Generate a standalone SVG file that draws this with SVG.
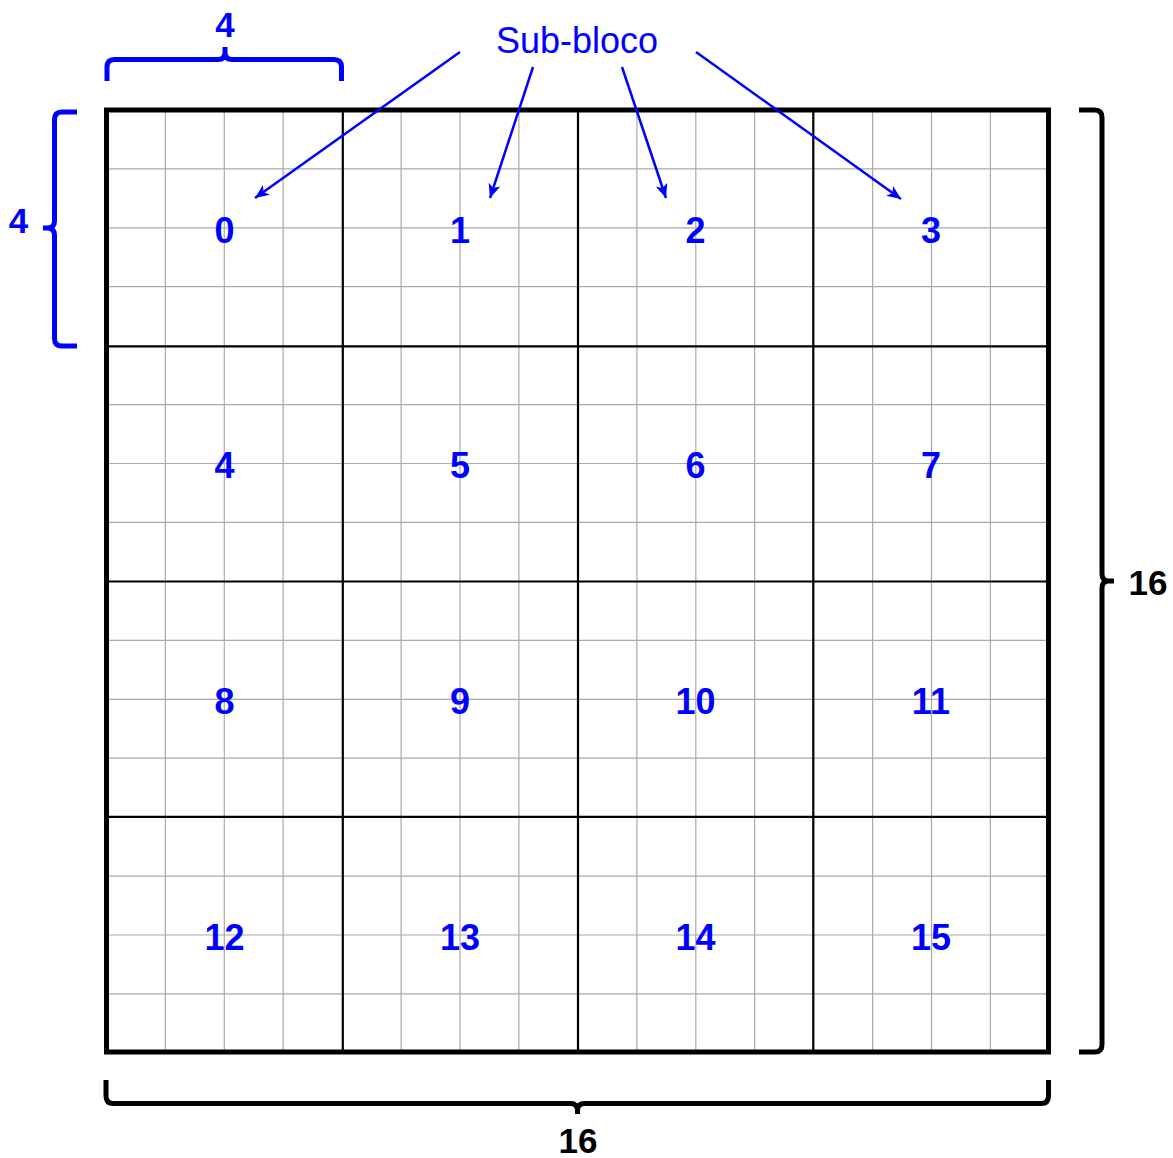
<svg xmlns="http://www.w3.org/2000/svg" width="1173" height="1158" viewBox="0 0 1173 1158">
<style>
.num{font-family:"Liberation Sans",Arial,sans-serif;font-weight:bold;font-size:36px;fill:#0000ff;text-anchor:middle}
.dim{font-family:"Liberation Sans",Arial,sans-serif;font-weight:bold;font-size:35px;text-anchor:middle}
.fine{stroke:#aaaaaa;stroke-width:1.2;fill:none}
.sub{stroke:#000;stroke-width:2.2;fill:none}
.brace{fill:none;stroke-width:5;stroke-linejoin:round}
.arrow{stroke:#0000ff;stroke-width:2.5;fill:none;marker-end:url(#ah)}
</style>
<defs>
<marker id="ah" markerUnits="userSpaceOnUse" markerWidth="16" markerHeight="14" refX="14" refY="6" orient="auto">
<path d="M0,0 L14,6 L0,12 L3.5,6 Z" fill="#0000ff"/>
</marker>
</defs>
<rect width="1173" height="1158" fill="#fff"/>
<g id="grid">
<path class="fine" d="M165.4,110V1052M224.3,110V1052M283.1,110V1052M401.1,110V1052M460,110V1052M518.9,110V1052M636.9,110V1052M695.8,110V1052M754.6,110V1052M872.6,110V1052M931.5,110V1052M990.4,110V1052M106.5,168.9H1048.5M106.5,227.8H1048.5M106.5,286.6H1048.5M106.5,404.6H1048.5M106.5,463.5H1048.5M106.5,522.4H1048.5M106.5,640.4H1048.5M106.5,699.3H1048.5M106.5,758.1H1048.5M106.5,876.1H1048.5M106.5,935H1048.5M106.5,993.9H1048.5"/>
<path class="sub" d="M342.8,110V1052M578,110V1052M813.3,110V1052M106.5,346.3H1048.5M106.5,581.5H1048.5M106.5,816.8H1048.5"/>
<rect x="106.5" y="110" width="942" height="942" fill="none" stroke="#000" stroke-width="5"/>
</g>
<g id="blocks">
<text class="num" x="224.4" y="242.5">0</text>
<text class="num" x="459.9" y="242.5">1</text>
<text class="num" x="695.4" y="242.5">2</text>
<text class="num" x="930.9" y="242.5">3</text>
<text class="num" x="224.4" y="478">4</text>
<text class="num" x="459.9" y="478">5</text>
<text class="num" x="695.4" y="478">6</text>
<text class="num" x="930.9" y="478">7</text>
<text class="num" x="224.4" y="714">8</text>
<text class="num" x="459.9" y="714">9</text>
<text class="num" x="695.4" y="714">10</text>
<text class="num" x="930.9" y="714">11</text>
<text class="num" x="224.4" y="949.5">12</text>
<text class="num" x="459.9" y="949.5">13</text>
<text class="num" x="695.4" y="949.5">14</text>
<text class="num" x="930.9" y="949.5">15</text>
</g>
<g id="braces">
<path class="brace" stroke="#0000ff" d="M107,81V67Q107,59.5 114.5,59.5H218Q225,59.5 225,52V47M225,52Q225,59.5 232,59.5H334Q341.5,59.5 341.5,67V81"/>
<text class="dim" fill="#0000ff" x="225" y="37">4</text>
<path class="brace" stroke="#0000ff" d="M77,112H62Q54.5,112 54.5,119.5V221Q54.5,228 47,228H43M47,228Q54.5,228 54.5,235V338.5Q54.5,346 62,346H77"/>
<text class="dim" fill="#0000ff" x="18.5" y="233">4</text>
<path class="brace" stroke="#000" d="M1079,110H1094.5Q1102,110 1102,117.5V574Q1102,581 1109,581H1114M1109,581Q1102,581 1102,588V1044.5Q1102,1052 1094.5,1052H1079"/>
<text class="dim" fill="#000" x="1148" y="595">16</text>
<path class="brace" stroke="#000" d="M106,1080V1096Q106,1103.5 113.5,1103.5H570.5Q577.5,1103.5 577.5,1110.5V1114M577.5,1110.5Q577.5,1103.5 584.5,1103.5H1041Q1048.5,1103.5 1048.5,1096V1080"/>
<text class="dim" fill="#000" x="578" y="1153">16</text>
</g>
<g id="label">
<text x="577" y="53" font-family="'Liberation Sans',Arial,sans-serif" font-size="36" fill="#0000ff" text-anchor="middle">Sub-bloco</text>
</g>
<g id="connectors">
<path class="arrow" d="M460,52L255,198"/>
<path class="arrow" d="M533,67L490,198"/>
<path class="arrow" d="M622,67L666,198"/>
<path class="arrow" d="M696,52L901,199"/>
</g>
</svg>
